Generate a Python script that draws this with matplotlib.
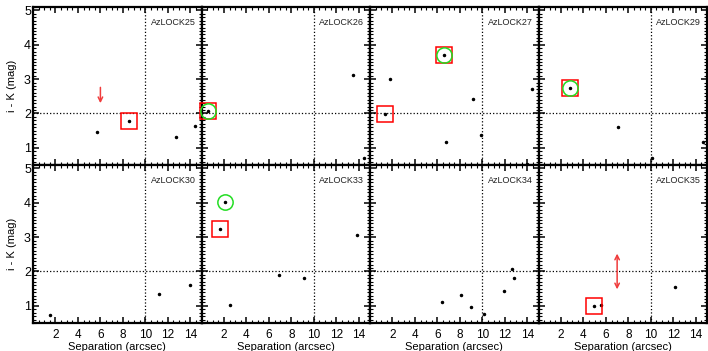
import numpy as np
import matplotlib.pyplot as plt
from matplotlib.ticker import MultipleLocator

plt.rcParams.update({
    'font.family': ['Liberation Sans', 'DejaVu Sans'],
    'font.size': 8,
    'axes.linewidth': 1.6,
})

# panel names (top row, then bottom row)
names = ['AzLOCK25', 'AzLOCK26', 'AzLOCK27', 'AzLOCK29',
         'AzLOCK30', 'AzLOCK33', 'AzLOCK34', 'AzLOCK35']

# separation (arcsec) and i - K colour (mag) of the sources in each field
sep25 = [5.7, 8.56, 12.7, 14.4]
ik25 = [1.47, 1.79, 1.32, 1.65]
sep26 = [0.62, 13.45, 14.43]
ik26 = [2.06, 3.11, 0.71]
sep27 = [6.6, 1.75, 1.3, 9.2, 14.4, 9.87, 6.76, 14.0]
ik27 = [3.69, 3.0, 1.99, 2.42, 2.71, 1.37, 1.17, 0.52]
sep29 = [2.81, 7.1, 10.07, 14.6]
ik29 = [2.73, 1.61, 0.71, 1.16]
sep30 = [1.5, 11.26, 13.96]
ik30 = [0.73, 1.33, 1.62]
sep33 = [2.07, 1.63, 13.84, 6.93, 9.1, 2.52]
ik33 = [4.01, 3.23, 3.06, 1.89, 1.82, 1.01]
sep34 = [6.37, 8.1, 9.0, 10.13, 11.9, 12.65, 12.83]
ik34 = [1.1, 1.32, 0.98, 0.75, 1.43, 2.06, 1.81]
sep35 = [4.95, 5.54, 12.12]
ik35 = [1.0, 1.02, 1.55]

# highlighted sources: index of points boxed in red / circled in green
boxed = [[1], [0], [0, 2], [0], [], [1], [], [0]]
circled = [[], [0], [0], [0], [], [0], [], []]

# arrows: (panel, x, y_tail, y_head, style)
arrows = [(0, 6.0, 2.76, 2.3, '->'), (7, 7.0, 2.52, 1.48, '<->')]

seps = [sep25, sep26, sep27, sep29, sep30, sep33, sep34, sep35]
iks = [ik25, ik26, ik27, ik29, ik30, ik33, ik34, ik35]

fig, axes = plt.subplots(2, 4, figsize=(7.08, 3.51), dpi=100)
fig.subplots_adjust(left=33 / 708, right=707 / 708, bottom=28 / 351, top=344 / 351,
                    wspace=0, hspace=0)

for k, ax in enumerate(axes.flat):
    x = np.array(seps[k])
    y = np.array(iks[k])
    ax.axhline(2, color='k', ls=':', lw=0.9)
    ax.axvline(10, color='k', ls=':', lw=0.9)
    ax.plot(x, y, 'k.', ms=3)
    if boxed[k]:
        ax.plot(x[boxed[k]], y[boxed[k]], 's', mfc='none', mec='red', mew=1.1,
                ms=11.5, clip_on=False, zorder=4)
    if circled[k]:
        ax.plot(x[circled[k]], y[circled[k]], 'o', mfc='none', mec='#22dd22', mew=1.1,
                ms=11.0, clip_on=False, zorder=4)
    ax.text(10.5, 4.66, names[k], fontsize=6.5, ha='left', va='center', color='#222222')

    ax.set_xlim(0, 15)
    ax.set_ylim(0.5, 5.1)
    ax.set_xticks([2, 4, 6, 8, 10, 12, 14])
    ax.set_yticks([1, 2, 3, 4, 5])
    ax.xaxis.set_minor_locator(MultipleLocator(0.5))
    ax.yaxis.set_minor_locator(MultipleLocator(0.1))
    ax.tick_params(which='both', direction='in', top=True, right=True, width=1.1)
    ax.tick_params(which='major', length=4.5)
    ax.tick_params(which='minor', length=2.2, width=0.8)
    ax.tick_params(axis='x', labelsize=8.5, pad=4)
    ax.tick_params(axis='y', labelsize=9, pad=1.5)
    row, col = divmod(k, 4)
    if row == 0:
        ax.tick_params(labelbottom=False)
    else:
        ax.set_xlabel('Separation (arcsec)', fontsize=8, labelpad=1)
    if col > 0:
        ax.tick_params(labelleft=False)
    else:
        ax.set_ylabel('i - K (mag)', fontsize=8, labelpad=5)

for (k, xa, y0, y1, style) in arrows:
    axes.flat[k].annotate('', xy=(xa, y1), xytext=(xa, y0),
                          arrowprops=dict(arrowstyle=style, color='#f03c3c', lw=1.1,
                                          shrinkA=0, shrinkB=0))

fig.savefig('out.png', dpi=100)
